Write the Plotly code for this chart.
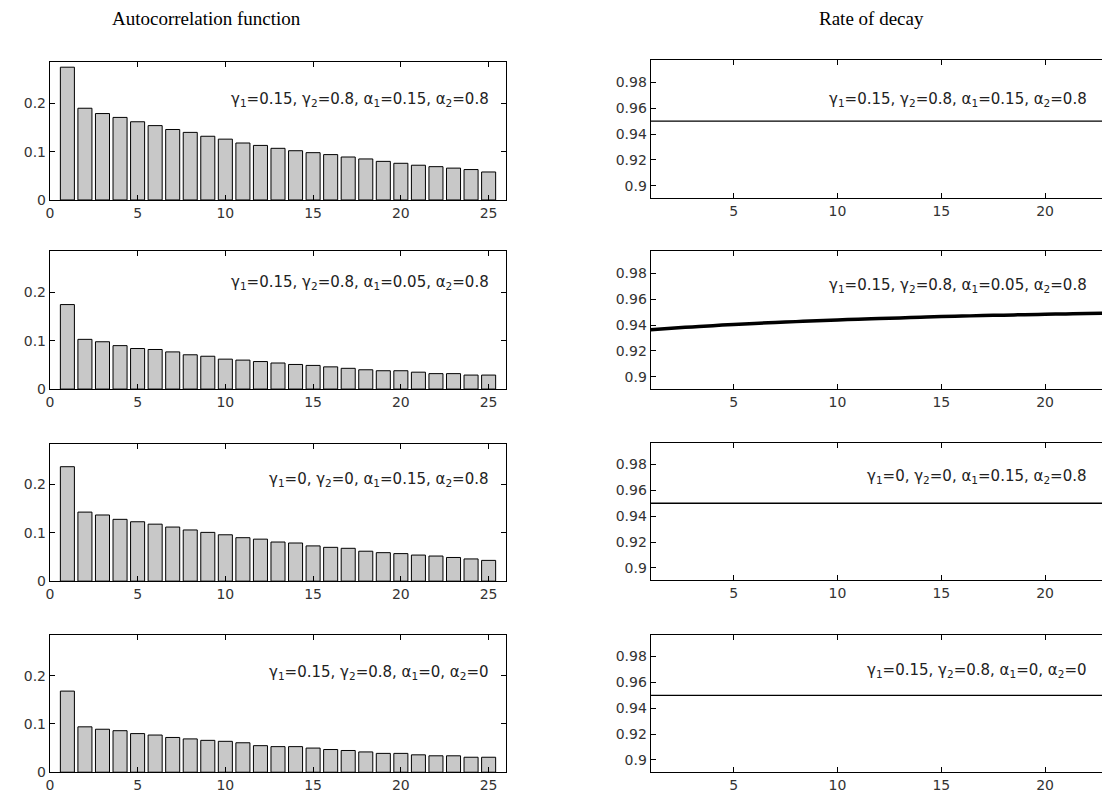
import plotly.graph_objects as go

# ---------------- data ----------------
lags = list(range(1, 26))

acf_1 = [0.275, 0.190, 0.179, 0.171, 0.162, 0.154, 0.146, 0.140, 0.132, 0.126,
         0.118, 0.113, 0.107, 0.102, 0.098, 0.094, 0.089, 0.085, 0.080, 0.076,
         0.072, 0.069, 0.066, 0.063, 0.058]
acf_2 = [0.175, 0.103, 0.098, 0.090, 0.084, 0.082, 0.077, 0.071, 0.068, 0.062,
         0.060, 0.057, 0.054, 0.051, 0.049, 0.046, 0.043, 0.040, 0.038, 0.038,
         0.035, 0.032, 0.032, 0.029, 0.029]
acf_3 = [0.237, 0.143, 0.137, 0.128, 0.123, 0.118, 0.112, 0.106, 0.101, 0.096,
         0.090, 0.087, 0.081, 0.079, 0.073, 0.070, 0.068, 0.062, 0.059, 0.057,
         0.054, 0.052, 0.049, 0.046, 0.043]
acf_4 = [0.168, 0.094, 0.089, 0.086, 0.080, 0.077, 0.072, 0.069, 0.066, 0.064,
         0.061, 0.055, 0.053, 0.053, 0.050, 0.047, 0.045, 0.042, 0.039, 0.039,
         0.036, 0.034, 0.034, 0.031, 0.031]

rate_1 = [0.95] * 25
rate_2 = [0.9365, 0.9376, 0.9386, 0.9396, 0.9405, 0.9413, 0.9420, 0.9427, 0.9434, 0.9440,
          0.9446, 0.9451, 0.9456, 0.9461, 0.9466, 0.9470, 0.9474, 0.9477, 0.9481, 0.9484,
          0.9487, 0.9490, 0.9492, 0.9494, 0.9496]
rate_3 = [0.95] * 25
rate_4 = [0.95] * 25

labels = [
    "γ<sub>1</sub>=0.15, γ<sub>2</sub>=0.8, α<sub>1</sub>=0.15, α<sub>2</sub>=0.8",
    "γ<sub>1</sub>=0.15, γ<sub>2</sub>=0.8, α<sub>1</sub>=0.05, α<sub>2</sub>=0.8",
    "γ<sub>1</sub>=0, γ<sub>2</sub>=0, α<sub>1</sub>=0.15, α<sub>2</sub>=0.8",
    "γ<sub>1</sub>=0.15, γ<sub>2</sub>=0.8, α<sub>1</sub>=0, α<sub>2</sub>=0",
]

left_ticks = [0, 5, 10, 15, 20, 25]
left_yticks = [0, 0.1, 0.2]
left_yticktext = ["0", "0.1", "0.2"]
right_ticks = [5, 10, 15, 20, 25]
right_yticks = [0.9, 0.92, 0.94, 0.96, 0.98]
right_yticktext = ["0.9", "0.92", "0.94", "0.96", "0.98"]

titles = ["Autocorrelation function", "Rate of decay"]

# ---------------- layout geometry (pixels) ----------------
W, H = 1102, 802
acfs = [acf_1, acf_2, acf_3, acf_4]
rates = [rate_1, rate_2, rate_3, rate_4]
left_tops = [63, 254, 448, 641]
right_tops = [61, 254, 447, 641]
ph = 139
left_x = (46, 504)
right_x = (649, 1102)
left_text_y = [101, 285, 484, 679]
right_text_y = [100, 288, 481, 677]
left_text_x = 489
right_text_x = 1089

tick_font = dict(family="DejaVu Sans", size=14, color="#333333")
ann_font = dict(family="DejaVu Sans", size=15, color="#222222")

fig = go.Figure()
layout = dict(width=W, height=H, margin=dict(l=0, r=0, t=0, b=0),
              paper_bgcolor="white", plot_bgcolor="white", showlegend=False,
              annotations=[])

def ydom(top):
    return [1 - (top + ph) / H, 1 - top / H]

for i in range(4):
    # left: bar chart
    ax = 2 * i + 1
    xa = "x" if ax == 1 else f"x{ax}"
    ya = "y" if ax == 1 else f"y{ax}"
    fig.add_trace(go.Bar(x=lags, y=acfs[i], width=0.8, xaxis=xa, yaxis=ya,
                         marker=dict(color="#c8c8c8", line=dict(color="black", width=1))))
    layout["xaxis" if ax == 1 else f"xaxis{ax}"] = dict(
        domain=[left_x[0] / W, left_x[1] / W], anchor=ya, range=[0, 26],
        tickvals=left_ticks, ticks="inside", ticklen=5, tickcolor="black",
        showline=True, linecolor="black", linewidth=1, mirror="ticks",
        showgrid=False, zeroline=False, tickfont=tick_font, fixedrange=True)
    layout["yaxis" if ax == 1 else f"yaxis{ax}"] = dict(
        domain=ydom(left_tops[i]), anchor=xa, range=[0, 0.285],
        tickvals=left_yticks, ticktext=left_yticktext, ticks="inside", ticklen=5,
        tickcolor="black", showline=True, linecolor="black", linewidth=1,
        mirror="ticks", showgrid=False, zeroline=False, tickfont=tick_font,
        fixedrange=True)
    layout["annotations"].append(dict(
        x=left_text_x / W, y=1 - left_text_y[i] / H, xref="paper", yref="paper",
        xanchor="right", yanchor="middle", text=labels[i], showarrow=False,
        font=ann_font))

    # right: line chart
    ax = 2 * i + 2
    xa, ya = f"x{ax}", f"y{ax}"
    fig.add_trace(go.Scatter(x=lags, y=rates[i], mode="lines", xaxis=xa, yaxis=ya,
                             line=dict(color="black", width=3.5 if i == 1 else 1.3,
                                       shape="spline")))
    layout[f"xaxis{ax}"] = dict(
        domain=[right_x[0] / W, 1.0], anchor=ya, range=[1, 22.74],
        tickvals=right_ticks, ticks="inside", ticklen=5, tickcolor="black",
        showline=True, linecolor="black", linewidth=1, mirror="ticks",
        showgrid=False, zeroline=False, tickfont=tick_font, fixedrange=True)
    layout[f"yaxis{ax}"] = dict(
        domain=ydom(right_tops[i]), anchor=xa, range=[0.8905, 0.997],
        tickvals=right_yticks, ticktext=right_yticktext, ticks="inside", ticklen=5,
        tickcolor="black", showline=True, linecolor="black", linewidth=1,
        mirror=False, showgrid=False, zeroline=False, tickfont=tick_font,
        fixedrange=True)
    layout["annotations"].append(dict(
        x=right_text_x / W, y=1 - right_text_y[i] / H, xref="paper", yref="paper",
        xanchor="right", yanchor="middle", text=labels[i], showarrow=False,
        font=ann_font))

# column titles
for cx, t in zip([203, 871], titles):
    layout["annotations"].append(dict(
        x=cx / W, y=1 - 19 / H, xref="paper", yref="paper", xanchor="center",
        yanchor="middle", text=t, showarrow=False,
        font=dict(family="Liberation Serif", size=19, color="black")))

fig.update_layout(**layout)
fig.write_html("out.html", config={"displayModeBar": False})
